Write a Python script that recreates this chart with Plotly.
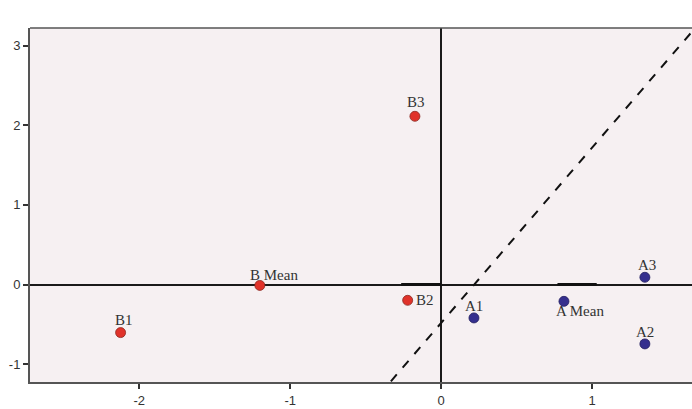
import plotly.graph_objects as go

# Point data
b_names = ["B1", "B Mean", "B2", "B3"]
b_x = [-2.123, -1.201, -0.222, -0.174]
b_y = [-0.602, -0.01, -0.197, 2.112]

a_names = ["A1", "A Mean", "A3", "A2"]
a_x = [0.217, 0.813, 1.349, 1.349]
a_y = [-0.418, -0.21, 0.092, -0.744]

# label offsets in pixels (dx, dy)
b_offsets = [(3, 13), (14, 10), (17, 0), (1, 14)]
a_offsets = [(0, 12), (16, -10), (2, 12), (0, 12)]

# dashed reference line
line_x = [-0.333, 1.70]
line_y = [-1.213, 3.26]

# emphasised stretches of the horizontal zero line
seg_b_x = [-0.265, 0.0]
seg_a_x = [0.77, 1.03]
seg_y = [0.0, 0.0]

x_ticks = [-2, -1, 0, 1]
x_tick_text = ["-2", "-1", "0", "1"]
y_ticks = [-1, 0, 1, 2, 3]
y_tick_text = ["-1", "0", "1", "2", "3"]

fig = go.Figure()

fig.add_trace(go.Scatter(x=line_x, y=line_y, mode="lines",
                         line=dict(color="#111111", width=2, dash="dash"),
                         hoverinfo="skip"))
for sx in (seg_b_x, seg_a_x):
    fig.add_trace(go.Scatter(x=sx, y=seg_y, mode="lines",
                             line=dict(color="#111111", width=3),
                             hoverinfo="skip"))

fig.add_trace(go.Scatter(x=b_x, y=b_y, mode="markers",
                         marker=dict(size=10, color="#e0322a",
                                     line=dict(color="#8a2a22", width=0.8))))
fig.add_trace(go.Scatter(x=a_x, y=a_y, mode="markers",
                         marker=dict(size=10, color="#352f8e",
                                     line=dict(color="#231f60", width=0.8))))

for names, xs, ys, offs in ((b_names, b_x, b_y, b_offsets),
                            (a_names, a_x, a_y, a_offsets)):
    for n, x, y, (dx, dy) in zip(names, xs, ys, offs):
        fig.add_annotation(x=x, y=y, text=n, showarrow=False,
                           xshift=dx, yshift=dy,
                           font=dict(family="Liberation Serif, Times New Roman, serif",
                                     size=15, color="#333333"))

axis_common = dict(showgrid=False, ticks="outside", ticklen=5, tickwidth=1.5,
                   tickcolor="#333333", showline=True, linecolor="#555555",
                   linewidth=2, zeroline=True, zerolinecolor="#1a1a1a",
                   zerolinewidth=1.5,
                   tickfont=dict(family="Liberation Sans, Arial, sans-serif",
                                 size=13, color="#333333"))

fig.update_xaxes(range=[-2.723, 1.661], tickvals=x_ticks, ticktext=x_tick_text,
                 **axis_common)
fig.update_yaxes(range=[-1.222, 3.22], tickvals=y_ticks, ticktext=y_tick_text,
                 **axis_common)

fig.add_shape(type="line", xref="paper", yref="paper", x0=0, x1=1, y0=1, y1=1,
              line=dict(color="#555555", width=1.5))

fig.update_layout(width=692, height=409, showlegend=False,
                  margin=dict(l=30, r=0, t=28, b=27),
                  plot_bgcolor="#f6f0f2", paper_bgcolor="white")

fig.write_html("out.html")
